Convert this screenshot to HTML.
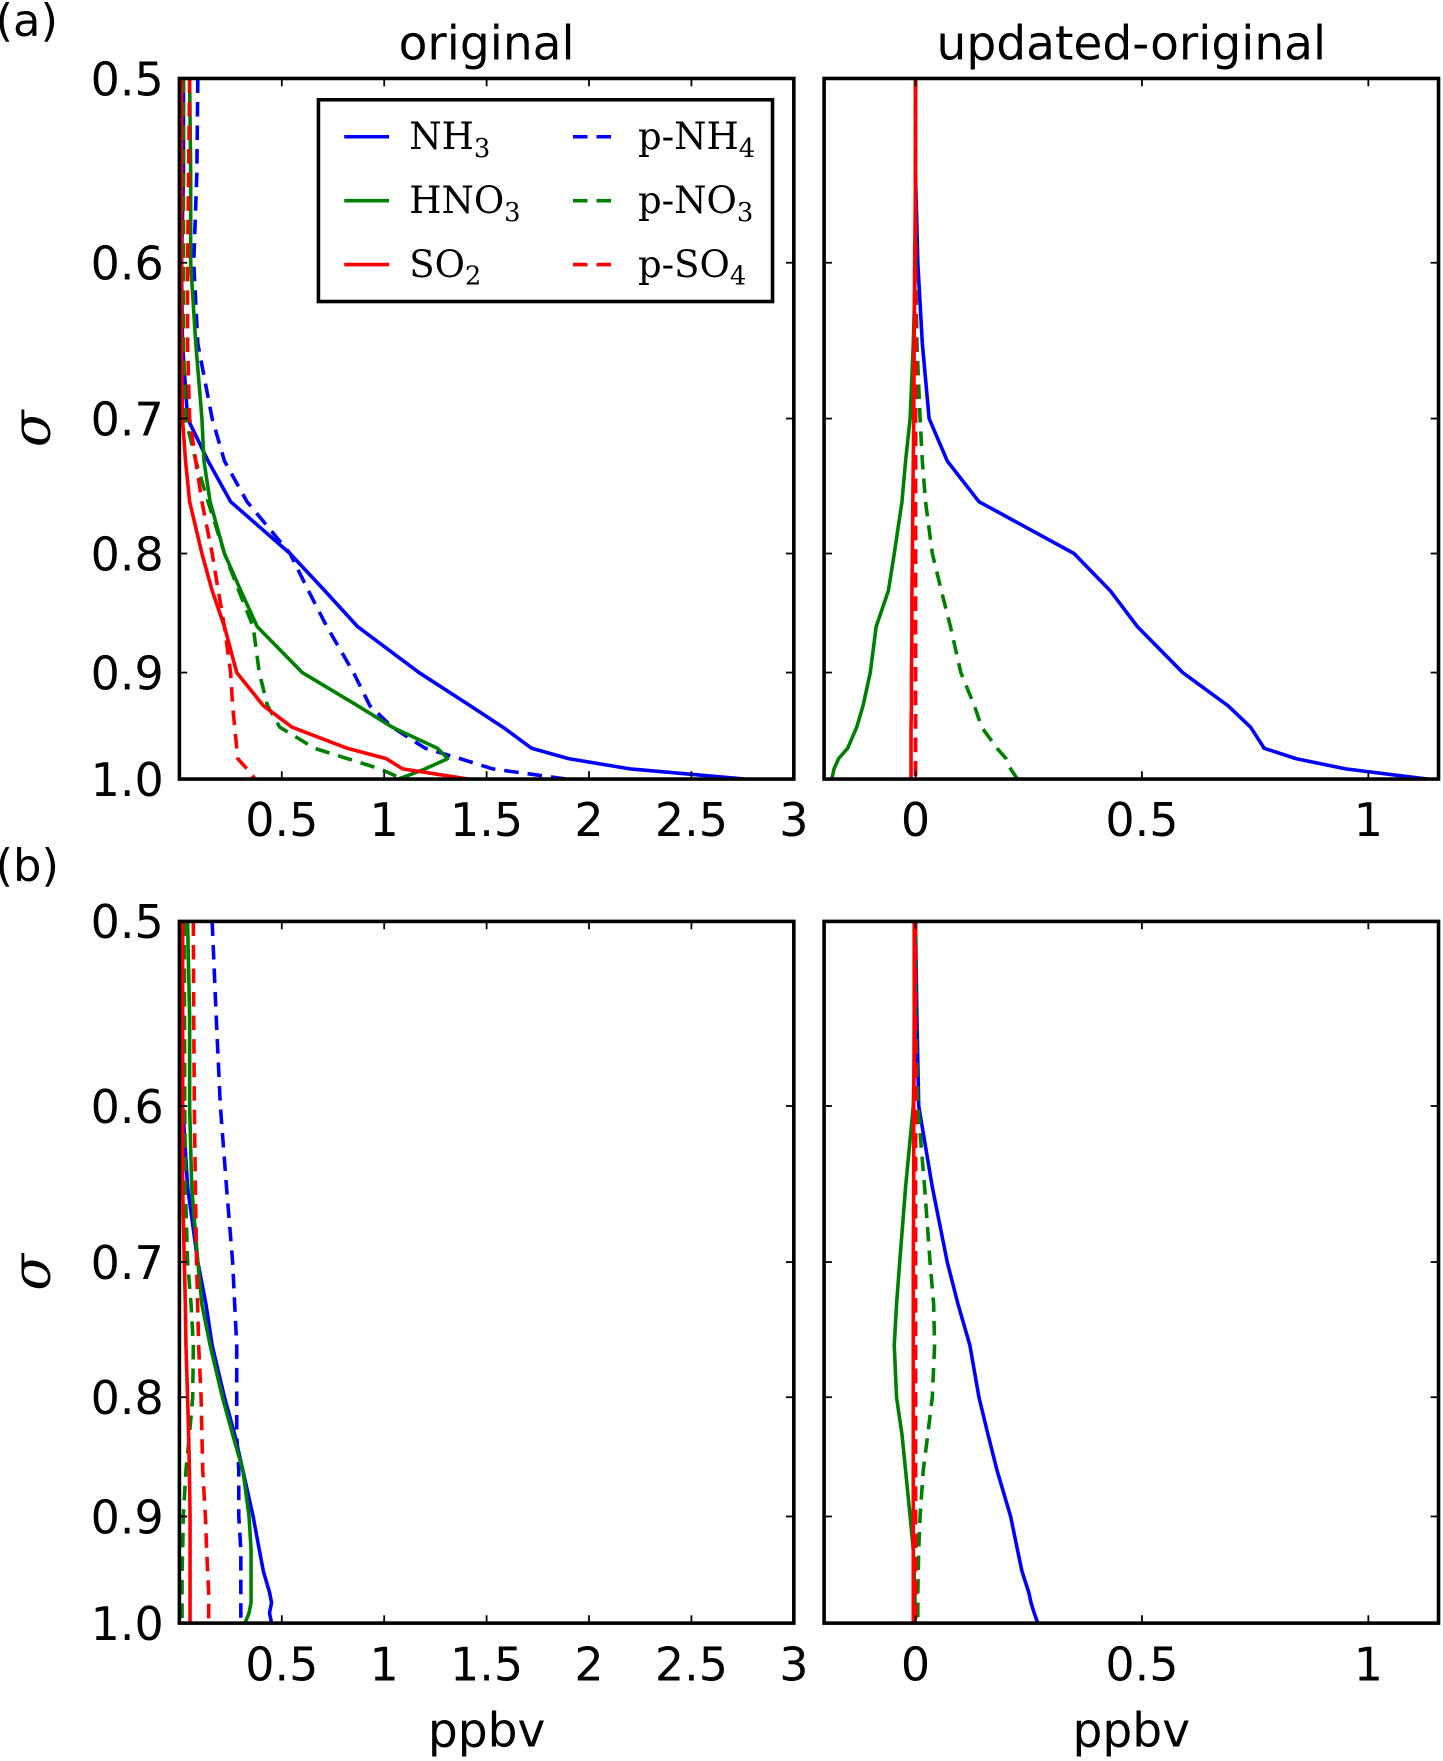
<!DOCTYPE html>
<html><head><meta charset="utf-8"><style>
html,body{margin:0;padding:0;background:#fff}
svg{display:block}
</style></head><body>
<svg id="fig" xmlns="http://www.w3.org/2000/svg" width="1443" height="1761" viewBox="0 0 1287 1571" preserveAspectRatio="none" font-family="'DejaVu Sans','Liberation Sans',sans-serif"></svg>
<script>
const sigma = [0.5,0.55,0.6,0.65,0.7,0.73,0.76,0.8,0.83,0.86,0.9,0.93,0.95,0.97,0.98,0.99,1.0];
// (a) original
const aOrigNH3  = [0.02,0.02,0.01,0.015,0.04,0.14,0.25,0.54,0.71,0.87,1.17,1.42,1.58,1.72,1.9,2.2,2.76];
const aOrigPNH4 = [0.09,0.085,0.07,0.09,0.16,0.22,0.33,0.54,0.63,0.72,0.85,0.93,1.04,1.2,1.37,1.53,1.89];
const aOrigHNO3 = [0.05,0.055,0.055,0.08,0.11,0.12,0.15,0.22,0.3,0.38,0.6,0.87,1.04,1.26,1.31,1.2,1.07];
const aOrigPNO3 = [0.02,0.02,0.02,0.02,0.03,0.08,0.14,0.22,0.29,0.36,0.39,0.43,0.49,0.66,0.82,0.98,1.09];
const aOrigSO2  = [0.01,0.01,0.01,0.01,0.015,0.03,0.05,0.11,0.16,0.22,0.28,0.41,0.55,0.82,1.01,1.09,1.41];
const aOrigPSO4 = [0.05,0.045,0.04,0.04,0.05,0.08,0.11,0.16,0.19,0.22,0.25,0.26,0.27,0.28,0.285,0.33,0.37];
// (a) updated-original
const aDiffNH3  = [0,0,0.005,0.015,0.03,0.07,0.14,0.35,0.43,0.49,0.59,0.69,0.74,0.77,0.84,0.95,1.13];
const aDiffPNH4 = [0,0,0,0,0,0,0,0,0,0,0,0,0,0,0,0,0];
const aDiffHNO3 = [0,0,0,-0.005,-0.012,-0.022,-0.03,-0.047,-0.06,-0.087,-0.1,-0.116,-0.13,-0.15,-0.17,-0.18,-0.185];
const aDiffPNO3 = [0,0,0,0.003,0.01,0.015,0.022,0.037,0.057,0.077,0.1,0.13,0.146,0.18,0.2,0.21,0.225];
const aDiffSO2  = [0,0,-0.002,-0.003,-0.004,-0.005,-0.006,-0.007,-0.008,-0.008,-0.009,-0.009,-0.01,-0.01,-0.01,-0.01,-0.01];
const aDiffPSO4 = [0,0,0,0,0,0,0,0,0,0,0,0,0,0,0,0,0];
// (b) original
const bOrigNH3  = [0.013,0.013,0.016,0.04,0.09,0.13,0.16,0.22,0.27,0.31,0.36,0.39,0.41,0.44,0.45,0.44,0.45];
const bOrigPNH4 = [0.16,0.18,0.2,0.23,0.26,0.27,0.28,0.28,0.28,0.29,0.29,0.3,0.3,0.3,0.3,0.3,0.3];
const bOrigHNO3 = [0.04,0.05,0.05,0.06,0.09,0.11,0.15,0.21,0.26,0.31,0.34,0.35,0.35,0.35,0.35,0.34,0.32];
const bOrigPNO3 = [0.024,0.025,0.026,0.029,0.04,0.057,0.068,0.065,0.049,0.032,0.019,0.016,0.013,0.013,0.013,0.013,0.013];
const bOrigSO2  = [0.016,0.016,0.016,0.016,0.024,0.029,0.032,0.04,0.045,0.049,0.052,0.052,0.052,0.052,0.052,0.052,0.052];
const bOrigPSO4 = [0.068,0.07,0.073,0.078,0.084,0.089,0.094,0.106,0.11,0.114,0.127,0.133,0.138,0.143,0.143,0.143,0.143];
// (b) updated-original
const bDiffNH3  = [0,0.003,0.007,0.037,0.07,0.094,0.12,0.14,0.16,0.18,0.21,0.225,0.235,0.25,0.255,0.262,0.27];
const bDiffPNH4 = [0,0,0,0,0,0,0,0,0,0,0,0,0,0,0,0,0];
const bDiffHNO3 = [0,0,-0.005,-0.022,-0.035,-0.042,-0.047,-0.042,-0.03,-0.022,-0.012,-0.005,-0.003,-0.002,-0.001,-0.001,-0.001];
const bDiffPNO3 = [0,0,0.005,0.02,0.032,0.04,0.042,0.037,0.027,0.017,0.01,0.007,0.006,0.005,0.005,0.005,0.005];
const bDiffSO2  = [-0.003,-0.003,-0.004,-0.004,-0.005,-0.005,-0.005,-0.005,-0.005,-0.005,-0.005,-0.005,-0.005,-0.005,-0.005,-0.005,-0.005];
const bDiffPSO4 = [0,0,0,0,0,0,0,0,0,0,0,0,0,0,0,0,0];

const yTicks = [0.5,0.6,0.7,0.8,0.9,1.0];
const yTickLabels = ["0.5","0.6","0.7","0.8","0.9","1.0"];
const xTicksOrig = [0.5,1,1.5,2,2.5,3];
const xTickLabelsOrig = ["0.5","1","1.5","2","2.5","3"];
const xTicksDiff = [0,0.5,1];
const xTickLabelsDiff = ["0","0.5","1"];

const NS = "http://www.w3.org/2000/svg";
const fig = document.getElementById('fig');
function mk(tag, attrs, parent){
  const e = document.createElementNS(NS, tag);
  for (const k in attrs) e.setAttribute(k, attrs[k]);
  (parent||fig).appendChild(e);
  return e;
}
function makeY(top, bot){
  return s => top + (bot-top) * (1 - Math.log(s)/Math.log(0.5));
}
function makeX(l, r, x0, x1){ return v => l + (v-x0)/(x1-x0)*(r-l); }

const colors = {blue:'#0000ff', green:'#008000', red:'#ff0000'};
const LW = 3.2, DASH = '13,8', FS = 41;

function panel(id, l, r, top, bot, x0, x1, series, xt, xtl, showY, title, xlabel){
  const g = mk('g', {});
  
  
  const X = makeX(l, r, x0, x1), Y = makeY(top, bot);
  const clipId = id + '-clip';
  const cp = mk('clipPath', {id: clipId}, g);
  mk('rect', {x:l, y:top, width:r-l, height:bot-top}, cp);
  const lg = mk('g', {'clip-path':'url(#'+clipId+')'}, g);
  series.forEach(s => {
    const pts = sigma.map((sg,i)=> X(s.vals[i]).toFixed(2)+','+Y(sg).toFixed(2)).join(' ');
    const pl = mk('polyline', {points: pts, fill:'none', stroke: colors[s.c], 'stroke-width': LW,
      'stroke-dasharray': s.dash ? DASH : 'none', 'stroke-linejoin':'round'}, lg);
    
    
  });
  const fr = mk('rect', {x:l, y:top, width:r-l, height:bot-top, fill:'none', stroke:'#000', 'stroke-width':3.2}, g);
  
  
  xt.forEach((v,i) => {
    const x = X(v);
    mk('line', {x1:x, y1:bot, x2:x, y2:bot-7, stroke:'#000', 'stroke-width':1.6}, g);
    mk('line', {x1:x, y1:top, x2:x, y2:top+7, stroke:'#000', 'stroke-width':1.6}, g);
    const t = mk('text', {x:x, y:bot+51, 'font-size':FS, 'text-anchor':'middle'}, g);
    t.textContent = xtl[i];
    
    
  });
  yTicks.forEach((v,i) => {
    const y = Y(v);
    mk('line', {x1:l, y1:y, x2:l+7, y2:y, stroke:'#000', 'stroke-width':1.6}, g);
    mk('line', {x1:r, y1:y, x2:r-7, y2:y, stroke:'#000', 'stroke-width':1.6}, g);
    if (showY){
      const t = mk('text', {x:l-14, y:y+15, 'font-size':FS, 'text-anchor':'end'}, g);
      t.textContent = yTickLabels[i];
      
      
    }
  });
  if (showY){
    const sy = (top+bot)/2;
    const t = mk('text', {x:44, y:sy, 'font-size':48, 'font-style':'italic', 'text-anchor':'middle',
      'font-family':"'DejaVu Serif','Liberation Serif',serif", transform:'rotate(-90 44 '+sy+')'}, g);
    t.textContent = 'σ';
    
    
  }
  if (title){
    const t = mk('text', {x:(l+r)/2, y:top-17, 'font-size':42, 'text-anchor':'middle'}, g);
    t.textContent = title;
    
    
  }
  if (xlabel){
    const t = mk('text', {x:(l+r)/2, y:bot+110, 'font-size':42, 'text-anchor':'middle'}, g);
    t.textContent = xlabel;
    
    
  }
}
function S(arrs){
  const names=['nh3','p-nh4','hno3','p-no3','so2','p-so4'];
  const cs=['blue','blue','green','green','red','red'];
  return arrs.map((a,i)=>({name:names[i], c:cs[i], dash:i%2===1, vals:a}));
}
panel('panel-a-original', 160, 708, 70, 695, 0, 3, S([aOrigNH3,aOrigPNH4,aOrigHNO3,aOrigPNO3,aOrigSO2,aOrigPSO4]), xTicksOrig, xTickLabelsOrig, true, 'original', null);
panel('panel-a-updated', 735, 1283, 70, 695, -0.202, 1.155, S([aDiffNH3,aDiffPNH4,aDiffHNO3,aDiffPNO3,aDiffSO2,aDiffPSO4]), xTicksDiff, xTickLabelsDiff, false, 'updated-original', null);
panel('panel-b-original', 160, 708, 822, 1448, 0, 3, S([bOrigNH3,bOrigPNH4,bOrigHNO3,bOrigPNO3,bOrigSO2,bOrigPSO4]), xTicksOrig, xTickLabelsOrig, true, null, 'ppbv');
panel('panel-b-updated', 735, 1283, 822, 1448, -0.202, 1.155, S([bDiffNH3,bDiffPNH4,bDiffHNO3,bDiffPNO3,bDiffSO2,bDiffPSO4]), xTicksDiff, xTickLabelsDiff, false, null, 'ppbv');

const la = mk('text', {x:-4, y:32, 'font-size':40});
la.textContent = '(a)';


const lb = mk('text', {x:-4, y:786, 'font-size':40});
lb.textContent = '(b)';



const leg = mk('g', {});


mk('rect', {x:284, y:89, width:405, height:180, fill:'#fff', stroke:'#000', 'stroke-width':3.2}, leg);
const legNames = [['NH','3'],['p-NH','4'],['HNO','3'],['p-NO','3'],['SO','2'],['p-SO','4']];
const legColors = ['blue','blue','green','green','red','red'];
legNames.forEach((n,i) => {
  const col = i%2, row = Math.floor(i/2);
  const lx = col ? 511 : 307, ty = 122 + row*57;
  const ln = mk('line', {x1:lx, y1:ty, x2:lx+40, y2:ty, stroke:colors[legColors[i]], 'stroke-width':LW,
    'stroke-dasharray': col ? DASH : 'none'}, leg);
  
  
  const t = mk('text', {x:lx+58, y:ty+11, 'font-size':33, 'font-family':"'DejaVu Serif','Liberation Serif',serif"}, leg);
  
  
  const a = mk('tspan', {}, t); a.textContent = n[0];
  const b = mk('tspan', {dy:7, 'font-size':23}, t); b.textContent = n[1];
});
</script>
</body></html>
